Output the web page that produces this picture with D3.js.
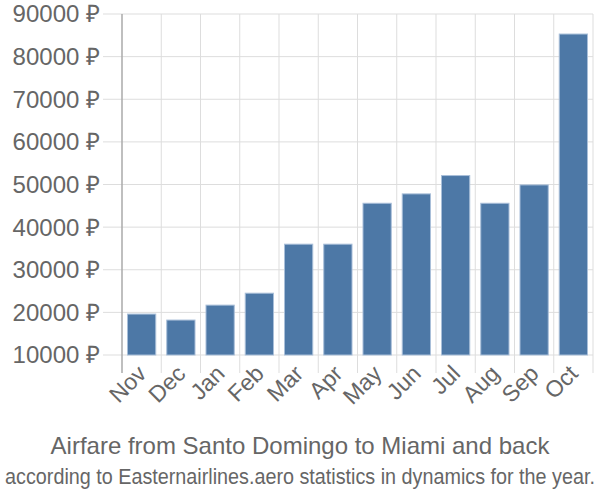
<!DOCTYPE html>
<html>
<head>
<meta charset="utf-8">
<script src="https://cdn.jsdelivr.net/npm/d3@7"></script>
<style>
  body { margin: 0; background: #fff; }
  text { font-family: "Liberation Sans", Arial, sans-serif; fill: #666; }
</style>
</head>
<body>
<div id="chart"></div>
<script>
// data
const months = ["Nov", "Dec", "Jan", "Feb", "Mar", "Apr", "May", "Jun", "Jul", "Aug", "Sep", "Oct"];
const prices = [19600, 18200, 21700, 24500, 36000, 36000, 45600, 47800, 52100, 45600, 49900, 85300];
const yTicks = [10000, 20000, 30000, 40000, 50000, 60000, 70000, 80000, 90000];

const width = 600, height = 500;
const margin = ({top: 14, right: 593, bottom: 355, left: 122});

let svg = d3.select('#chart').append('svg')
  .attr('width', width)
  .attr('height', height);

let xScale = d3.scaleBand()
  .domain(months)
  .range([margin.left, margin.right])
  .paddingInner(0.28)
  .paddingOuter(0.14);

let yScale = d3.scaleLinear()
  .domain([10000, 90000])
  .range([margin.bottom, margin.top]);

// horizontal grid
svg.append("g").selectAll("line")
  .data(yTicks)
  .enter().append("line")
  .attr("x1", margin.left - 19).attr("x2", margin.right)
  .attr("y1", d => yScale(d)).attr("y2", d => yScale(d))
  .attr("stroke", "#ddd").attr("stroke-width", 1);

// vertical grid at band edges
let half = xScale.step() * xScale.paddingInner() / 2;
let edges = months.map(m => xScale(m) - half).concat([margin.right]);
svg.append("g").selectAll("line")
  .data(edges.slice(1))
  .enter().append("line")
  .attr("x1", d => d).attr("x2", d => d)
  .attr("y1", margin.top).attr("y2", margin.bottom + 18)
  .attr("stroke", "#ddd").attr("stroke-width", 1);

// y axis line
svg.append("line")
  .attr("x1", margin.left).attr("x2", margin.left)
  .attr("y1", margin.top).attr("y2", margin.bottom + 18)
  .attr("stroke", "#aaa").attr("stroke-width", 1.5);

// bars
svg.selectAll(".bar")
  .data(months)
  .enter().append("rect")
  .attr("class", "bar")
  .attr("x", (d) => xScale(d))
  .attr("y", (d, i) => yScale(prices[i]))
  .attr("width", xScale.bandwidth())
  .attr("height", (d, i) => yScale(10000) - yScale(prices[i]))
  .attr("fill", "#4d78a6")
  .attr("stroke", "#a9bfd9")
  .attr("stroke-width", 1);

// y labels
svg.append("g").selectAll("text")
  .data(yTicks)
  .enter().append("text")
  .attr("x", 100)
  .attr("y", d => yScale(d))
  .attr("dy", "0.35em")
  .attr("text-anchor", "end")
  .style("font-size", "24px")
  .text(d => d + " ₽");

// x labels
svg.append("g").selectAll("text")
  .data(months)
  .enter().append("text")
  .attr("text-anchor", "end")
  .style("font-size", "23px")
  .attr("transform", d => "translate(" + (xScale(d) + xScale.bandwidth() / 2 + 6) + "," + (margin.bottom + 20) + ") rotate(-45)")
  .text(d => d);

// titles
svg.append("text")
  .attr("x", 300).attr("y", 454)
  .attr("text-anchor", "middle")
  .style("font-size", "24px")
  .text("Airfare from Santo Domingo to Miami and back");

// subtitle is horizontally squeezed in the reference
let sub = svg.append("text")
  .attr("text-anchor", "middle")
  .style("font-size", "22px")
  .text("according to Easternairlines.aero statistics in dynamics for the year.");
let sx = Math.min(1, 590 / sub.node().getComputedTextLength());
sub.attr("transform", "translate(300,484) scale(" + sx + ",1)");
</script>
</body>
</html>
